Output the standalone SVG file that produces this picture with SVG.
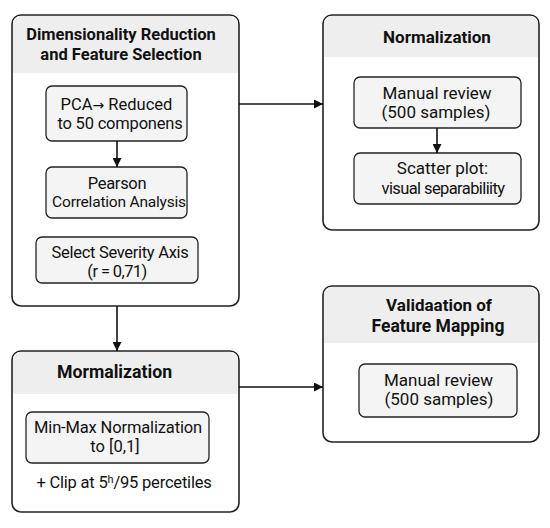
<svg xmlns="http://www.w3.org/2000/svg" width="550" height="528" viewBox="0 0 550 528">
<defs>
<marker id="ah" viewBox="0 0 10 10" refX="10" refY="5" markerWidth="9" markerHeight="9" markerUnits="userSpaceOnUse" orient="auto">
<path d="M0,0 L10,5 L0,10 Z" fill="#111"/>
</marker>
<style>
.outer{fill:#fff;stroke:#222;stroke-width:1.6}
.hdr{fill:#eeeeee}
.inner{fill:#f4f4f4;stroke:#222;stroke-width:1.3}
.t{font-family:Roboto,"Liberation Sans",Arial,sans-serif;font-weight:bold;font-size:17px;fill:#111;text-anchor:middle}
.b{font-family:Roboto,"Liberation Sans",Arial,sans-serif;font-size:17px;fill:#111;text-anchor:middle}
.c{stroke:#111;stroke-width:1.6;fill:none;marker-end:url(#ah)}
</style>
</defs>
<rect width="550" height="528" fill="#fff"/>

<g id="box1">
<rect class="outer" x="12" y="15" width="227" height="291" rx="9"/>
<path class="hdr" d="M13,24 Q13,16 21,16 L230,16 Q238,16 238,24 L238,73 L13,73 Z"/>
<text class="t" x="121" y="40" style="font-size:16.5px">Dimensionality Reduction</text>
<text class="t" x="121" y="60" style="font-size:16.5px">and Feature Selection</text>
</g>
<g id="pca">
<rect class="inner" x="46" y="86" width="141" height="55" rx="6"/>
<text class="b" x="116.5" y="110" style="font-size:16.5px">PCA<tspan style="font-family:'DejaVu Sans',sans-serif;font-size:14px">→</tspan> Reduced</text>
<text class="b" x="120" y="129" style="font-size:16.5px;letter-spacing:-0.2px">to 50 componens</text>
</g>
<g id="pearson">
<rect class="inner" x="46" y="167" width="141" height="51" rx="6"/>
<text class="b" x="117" y="189" style="font-size:16.5px;letter-spacing:-0.3px">Pearson</text>
<text class="b" x="119" y="207" style="font-size:15.5px;letter-spacing:-0.2px">Correlation Analysis</text>
</g>
<g id="select">
<rect class="inner" x="36" y="237" width="162" height="46" rx="6"/>
<text class="b" x="120" y="258" style="font-size:16.5px;letter-spacing:-0.3px">Select Severity Axis</text>
<text class="b" x="117" y="277" style="font-size:16.5px;letter-spacing:-0.6px">(r = 0,71)</text>
</g>

<g id="box2">
<rect class="outer" x="323" y="15" width="216" height="215" rx="9"/>
<path class="hdr" d="M324,24 Q324,16 332,16 L530,16 Q538,16 538,24 L538,57 L324,57 Z"/>
<text class="t" x="437" y="43">Normalization</text>
</g>
<g id="review1">
<rect class="inner" x="354" y="77" width="167" height="51" rx="6"/>
<text class="b" x="437" y="99">Manual review</text>
<text class="b" x="436" y="118">(500 samples)</text>
</g>
<g id="scatter">
<rect class="inner" x="354" y="153" width="167" height="51" rx="6"/>
<text class="b" x="442.5" y="174">Scatter plot:</text>
<text class="b" x="443" y="194" style="font-size:16.5px;letter-spacing:-0.6px">visual separabiliity</text>
</g>

<g id="box3">
<rect class="outer" x="12" y="351" width="227" height="161" rx="9"/>
<path class="hdr" d="M13,360 Q13,352 21,352 L230,352 Q238,352 238,360 L238,394 L13,394 Z"/>
<text class="t" x="114.5" y="378" style="font-size:17.7px">Mormalization</text>
</g>
<g id="minmax">
<rect class="inner" x="26" y="412" width="183" height="51" rx="6"/>
<text class="b" x="118" y="433" style="font-size:16.5px;letter-spacing:-0.15px">Min-Max Normalization</text>
<text class="b" x="115" y="452" style="font-size:16.5px">to [0,1]</text>
</g>
<g id="clip">
<text class="b" x="124" y="488" style="font-size:16.5px;letter-spacing:-0.2px">+ Clip at 5<tspan style="font-size:11px" baseline-shift="5">h</tspan>/95 percetiles</text>
</g>

<g id="box4">
<rect class="outer" x="323" y="286" width="216" height="156" rx="9"/>
<path class="hdr" d="M324,295 Q324,287 332,287 L530,287 Q538,287 538,295 L538,343 L324,343 Z"/>
<text class="t" x="439" y="311">Validaation of</text>
<text class="t" x="438" y="332" style="font-size:17.5px">Feature Mapping</text>
</g>
<g id="review2">
<rect class="inner" x="359" y="364" width="158" height="53" rx="6"/>
<text class="b" x="438.5" y="386">Manual review</text>
<text class="b" x="439" y="405">(500 samples)</text>
</g>

<g id="connectors">
<line class="c" x1="117" y1="141" x2="117" y2="167"/>
<line class="c" x1="437" y1="128" x2="437" y2="153"/>
<line class="c" x1="239" y1="104" x2="323" y2="104"/>
<line class="c" x1="117" y1="306" x2="117" y2="351"/>
<line class="c" x1="239" y1="387" x2="323" y2="387"/>
</g>
</svg>
